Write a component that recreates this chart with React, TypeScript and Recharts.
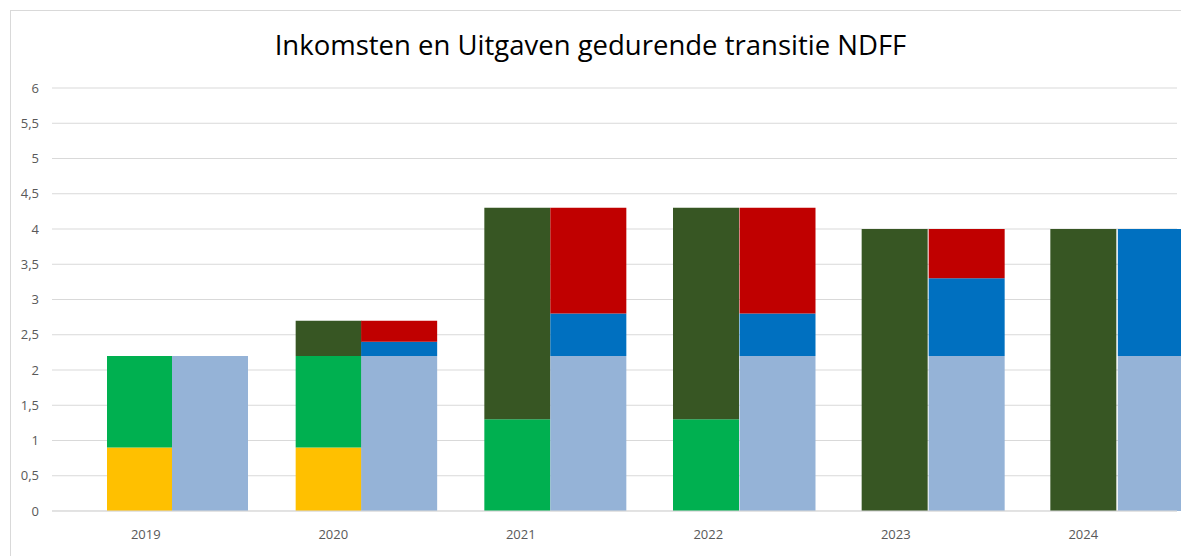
import React from 'react';
import { BarChart, Bar, XAxis, YAxis, CartesianGrid } from 'recharts';

const years = ['2019', '2020', '2021', '2022', '2023', '2024'];
const incomeYellow = [0.9, 0.9, 0, 0, 0, 0];
const incomeGreen = [1.3, 1.3, 1.3, 1.3, 0, 0];
const incomeDarkGreen = [0, 0.5, 3.0, 3.0, 4.0, 4.0];
const expenseLightBlue = [2.2, 2.2, 2.2, 2.2, 2.2, 2.2];
const expenseBlue = [0, 0.2, 0.6, 0.6, 1.1, 1.8];
const expenseRed = [0, 0.3, 1.5, 1.5, 0.7, 0];
const yTicks = [0, 0.5, 1, 1.5, 2, 2.5, 3, 3.5, 4, 4.5, 5, 5.5, 6];

const data = years.map((y, i) => ({
  year: y,
  iy: incomeYellow[i],
  ig: incomeGreen[i],
  id: incomeDarkGreen[i],
  el: expenseLightBlue[i],
  eb: expenseBlue[i],
  er: expenseRed[i],
}));

const font = '"Open Sans", sans-serif';

export default function App() {
  return (
    <div style={{ position: 'absolute', left: 0, top: 0, width: 1181, height: 556, overflow: 'hidden', background: '#fff' }}>
      <div style={{ position: 'absolute', left: 10, top: 10, width: 1300, height: 700, borderLeft: '1px solid #d9d9d9', borderTop: '1px solid #d9d9d9' }} />
      <div style={{ position: 'absolute', left: 0, top: 26, width: 1181, textAlign: 'center', fontFamily: font, fontSize: 27.5, color: '#000', lineHeight: '38px' }}>
        Inkomsten en Uitgaven gedurende transitie NDFF
      </div>
      <div style={{ position: 'absolute', left: 0, top: 0 }}>
        <BarChart width={1181} height={556} data={data} margin={{ top: 88, right: 4, bottom: 0, left: 0 }} barGap={0}>
          <CartesianGrid vertical={false} stroke="#d9d9d9" />
          <XAxis xAxisId="lab" dataKey="year" height={45} axisLine={{ stroke: '#d9d9d9' }} tickLine={false} tickSize={6} tickMargin={13} tick={{ fill: '#595959', fontSize: 13, fontFamily: font }} />
          <XAxis xAxisId="inc" dataKey="year" hide height={0} padding={{ left: -6, right: -1 }} />
          <XAxis xAxisId="exp" dataKey="year" hide height={0} padding={{ left: 63, right: -73 }} />
          <YAxis width={52} domain={[0, 6]} ticks={yTicks} axisLine={false} tickLine={false} tickSize={6} tickMargin={7} interval={0}
            tick={{ fill: '#595959', fontSize: 13, fontFamily: font }}
            tickFormatter={(v: number) => String(v).replace('.', ',')} />
          <Bar xAxisId="inc" dataKey="iy" stackId="inc" fill="#FFC000" barSize={66} isAnimationActive={false} />
          <Bar xAxisId="inc" dataKey="ig" stackId="inc" fill="#00B050" barSize={66} isAnimationActive={false} />
          <Bar xAxisId="inc" dataKey="id" stackId="inc" fill="#375623" barSize={66} isAnimationActive={false} />
          <Bar xAxisId="exp" dataKey="el" stackId="exp" fill="#95B3D7" barSize={76} isAnimationActive={false} />
          <Bar xAxisId="exp" dataKey="eb" stackId="exp" fill="#0070C0" barSize={76} isAnimationActive={false} />
          <Bar xAxisId="exp" dataKey="er" stackId="exp" fill="#C00000" barSize={76} isAnimationActive={false} />
        </BarChart>
      </div>
    </div>
  );
}
